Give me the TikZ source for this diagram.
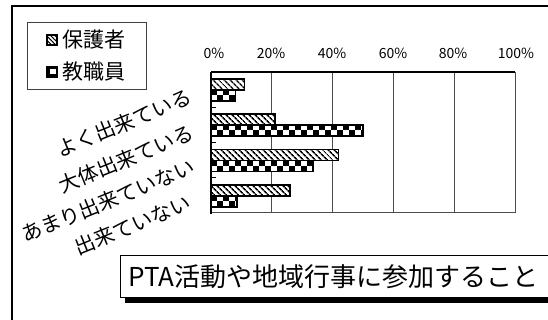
\documentclass[tikz,border=0pt]{standalone}
\usepackage{fontspec}
\setmainfont{Noto Sans CJK JP}
\usetikzlibrary{patterns.meta,shadows}
\newcommand\hatchbar[3]{% #1 x0, #2 top y, #3 length
  \draw[line width=1.5pt, preaction={fill=white}, pattern={Lines[angle=-45,distance=4pt,line width=1.6pt]}] (#1,#2) rectangle ++(#3,11);}
\newcommand\checkbar[3]{% #1 x0, #2 top y, #3 length
  \begin{scope}
    \clip (#1,#2) rectangle ++(#3,11);
    \fill[white] (#1,#2) rectangle ++(#3,11);
    \foreach \j in {0,...,30}{
      \fill[black] ({#1+12*\j},#2) rectangle ++(6,5.5);
      \fill[black] ({#1+6+12*\j},{#2+5.5}) rectangle ++(6,5.5);
    }
  \end{scope}
  \draw[line width=1.5pt] (#1,#2) rectangle ++(#3,11);}
\begin{document}
\begin{tikzpicture}[x=1pt,y=-1pt,
  tick/.style={font=\fontsize{14}{14}\selectfont, inner sep=0pt},
  cat/.style={font=\fontsize{20.5}{20.5}\selectfont, rotate=22, anchor=east, inner sep=0pt},
  legtext/.style={font=\fontsize{21}{21}\selectfont, anchor=west, inner sep=0pt}]
\useasboundingbox (0,0) rectangle (548,320);
\clip (0,0) rectangle (548,320);
\fill[white] (0,0) rectangle (548,320);
% outer frame
\draw[line width=1.5pt] (12,330) -- (12,6) -- (560,6);
% legend
\draw[line width=0.8pt, draw=black!75] (27,22) rectangle (146,89);
\draw[line width=1.5pt, preaction={fill=white}, pattern={Lines[angle=-45,distance=3pt,line width=1pt]}] (47,35) rectangle (57,45);
\begin{scope}
  \clip (47,67) rectangle (57,77);
  \fill[black] (47,67) rectangle (57,77);
  \fill[white] (50,69) rectangle (56,74);
\end{scope}
\draw[line width=1.5pt] (47,67) rectangle (57,77);
\node[legtext] (l1) at (62,40) {保護者};
\node[legtext] (l2) at (62,72) {教職員};
% grid
\foreach \v in {20,40,60,80}{
  \draw[line width=1pt, black!70] ({211+3.04*\v},72) -- ({211+3.04*\v},213);
}
\draw[line width=1pt, black!70] (515,72) -- (515,213) -- (211,213);
\draw[line width=1.2pt] (211,72) -- (515,72);
\draw[line width=1.5pt] (211,72) -- (211,214);
\foreach \t in {107.25,142.5,177.75}{
  \draw[line width=1pt] (211,\t) -- (216,\t);
}
% tick labels
\node[tick] (t0) at (214,53) {0\%};
\node[tick] (t20) at (271,53) {20\%};
\node[tick] (t40) at (332,53) {40\%};
\node[tick] (t60) at (393,53) {60\%};
\node[tick] (t80) at (453,53) {80\%};
\node[tick] (t100) at (516,53) {100\%};
% bars
\hatchbar{211}{79}{33.4}
\checkbar{211}{90}{24.3}
\hatchbar{211}{114}{63.8}
\checkbar{211}{125}{152}
\hatchbar{211}{149.5}{127.7}
\checkbar{211}{160.5}{101.8}
\hatchbar{211}{185}{79}
\checkbar{211}{196}{25.8}
% category labels
\node[cat] (c1) at (191,96) {よく出来ている};
\node[cat] (c2) at (193,132) {大体出来ている};
\node[cat] (c3) at (194,166) {あまり出来ていない};
\node[cat] (c4) at (190,202) {出来ていない};
% title
\node[draw, line width=1pt, fill=white, anchor=north west, minimum height=42pt,
  text width=424pt, inner xsep=8pt, align=left,
  font=\fontsize{26}{26}\selectfont,
  drop shadow={shadow xshift=4pt, shadow yshift=-5pt, fill=black, opacity=1}]
  (title) at (120,255) {PTA活動や地域行事に参加すること};
\end{tikzpicture}
\end{document}
